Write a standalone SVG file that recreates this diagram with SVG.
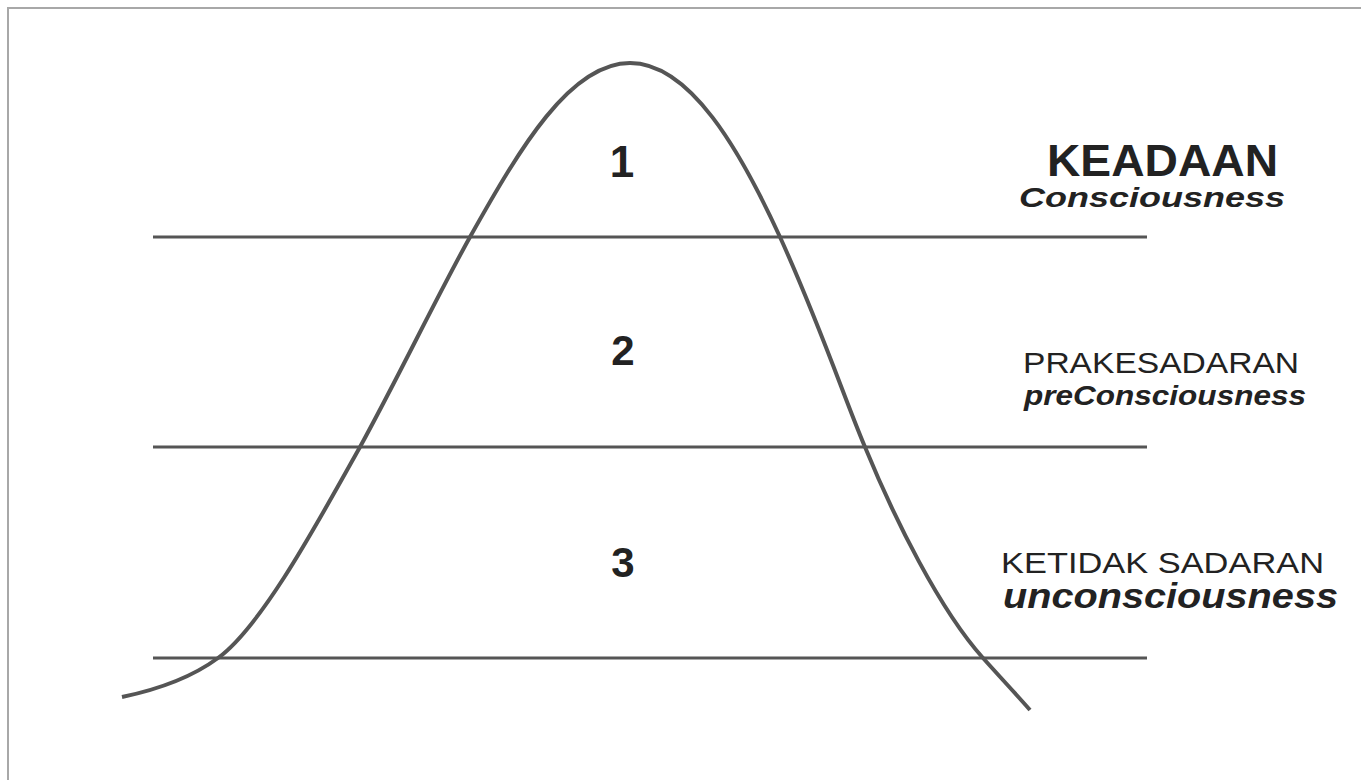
<svg xmlns="http://www.w3.org/2000/svg" width="1361" height="780" viewBox="0 0 1361 780">
<style>
.lvl{stroke:#555;stroke-width:3;fill:none}
.crv{stroke:#555;stroke-width:4;fill:none}
.num{font-family:"Liberation Sans",Arial,sans-serif;font-weight:bold;fill:#222;text-anchor:middle}
.h{font-family:"Liberation Sans",Arial,sans-serif;fill:#222}
.hb{font-weight:bold}
.it{font-family:"Liberation Sans",Arial,sans-serif;font-weight:bold;font-style:italic;fill:#222}
</style>
<rect width="1361" height="780" fill="#fff"/>
<path d="M8,780 V8 H1361" fill="none" stroke="#a8a8a8" stroke-width="2"/>
<g id="levels">
<line class="lvl" x1="153" y1="237" x2="1147" y2="237"/>
<line class="lvl" x1="153" y1="447" x2="1147" y2="447"/>
<line class="lvl" x1="153" y1="658" x2="1147" y2="658"/>
</g>
<g id="curve">
<path class="crv" d="M122,697 C165,688 195,675 218,658 C262,626 318,522 360,447 C400,374 435,300 470,237 C520,148 570,63 630,63 C690,63 740,150 780,237 C820,325 845,400 865,447 C895,520 940,610 983,658 C1000,677 1015,693 1030,710"/>
</g>
<g id="numbers">
<text class="num" x="622" y="177" font-size="44">1</text>
<text class="num" x="623" y="365" font-size="42">2</text>
<text class="num" x="623" y="577" font-size="42">3</text>
</g>
<g id="label1">
<text class="h hb" x="1047" y="176" font-size="45" textLength="231" lengthAdjust="spacingAndGlyphs">KEADAAN</text>
<text class="it" x="1019" y="207" font-size="28" textLength="266" lengthAdjust="spacingAndGlyphs">Consciousness</text>
</g>
<g id="label2">
<text class="h" x="1023" y="373" font-size="29" textLength="276" lengthAdjust="spacingAndGlyphs">PRAKESADARAN</text>
<text class="it" x="1024" y="405" font-size="28" textLength="282" lengthAdjust="spacingAndGlyphs">preConsciousness</text>
</g>
<g id="label3">
<text class="h" x="1001" y="573" font-size="29" textLength="323" lengthAdjust="spacingAndGlyphs">KETIDAK SADARAN</text>
<text class="it" x="1003" y="608" font-size="35" textLength="335" lengthAdjust="spacingAndGlyphs">unconsciousness</text>
</g>
</svg>
